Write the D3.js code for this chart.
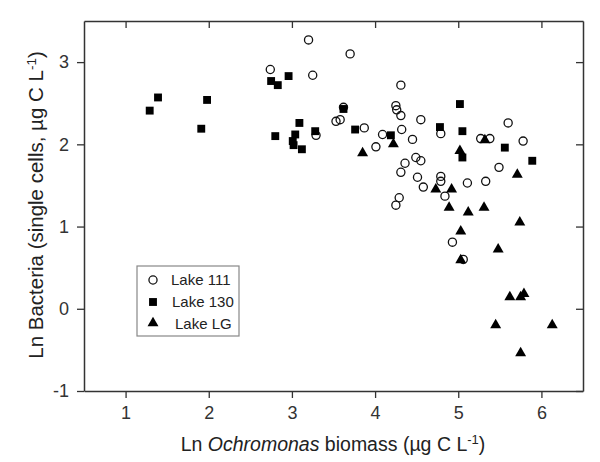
<!DOCTYPE html>
<html lang="en">
<head>
	<meta charset="utf-8">
	<title>Ln Bacteria vs Ln Ochromonas</title>
	<script src="https://d3js.org/d3.v7.min.js"></script>
	<style type="text/css">
		body { margin: 0; background: #fff; }
		svg { font-family: "Liberation Sans", Arial, sans-serif; }
	</style>
</head>
<body>
	<svg id="chart" width="600" height="462"></svg>

	<script type="text/javascript">
	// data: [ln Ochromonas, ln Bacteria]
	var lake111 = [
		[2.74, 2.91], [3.20, 3.27], [3.70, 3.10], [3.25, 2.84], [4.31, 2.72],
		[3.62, 2.45], [3.53, 2.28], [3.58, 2.30], [3.29, 2.11], [3.87, 2.20],
		[4.09, 2.12], [4.01, 1.97], [4.25, 2.47], [4.26, 2.42], [4.31, 2.35],
		[4.32, 2.18], [4.45, 2.06], [4.49, 1.84], [4.36, 1.77], [4.55, 2.30],
		[5.60, 2.26], [5.78, 2.04], [4.79, 2.13], [5.27, 2.07], [5.38, 2.07],
		[4.31, 1.66], [4.55, 1.80], [5.49, 1.72], [4.51, 1.60], [4.58, 1.48],
		[4.79, 1.61], [4.79, 1.55], [5.11, 1.53], [5.33, 1.55], [4.84, 1.37],
		[4.29, 1.35], [4.25, 1.26], [4.93, 0.81], [5.06, 0.60]
	]
	var lake130 = [
		[1.29, 2.41], [1.39, 2.57], [1.98, 2.54], [1.91, 2.19], [2.96, 2.83],
		[2.75, 2.77], [2.83, 2.72], [3.62, 2.43], [3.09, 2.26], [2.80, 2.10],
		[3.28, 2.16], [3.04, 2.12], [3.01, 2.04], [3.02, 1.99], [3.12, 1.94],
		[3.76, 2.18], [4.19, 2.11], [5.02, 2.49], [4.78, 2.21], [5.05, 2.16],
		[5.56, 1.96], [5.89, 1.80], [5.05, 1.84]
	]
	var lakeLG = [
		[3.85, 1.88], [4.22, 1.99], [5.32, 2.04], [5.02, 1.91], [5.71, 1.62],
		[4.73, 1.44], [4.92, 1.44], [4.89, 1.22], [5.12, 1.16], [5.31, 1.22],
		[5.74, 1.04], [5.03, 0.93], [5.48, 0.71], [5.03, 0.58], [5.62, 0.13],
		[5.75, 0.13], [5.79, 0.17], [5.45, -0.21], [6.13, -0.21], [5.75, -0.55]
	]
	var legendLabels = ["Lake 111", "Lake 130", "Lake LG"]
	var xTicks = [1, 2, 3, 4, 5, 6]
	var yTicks = [-1, 0, 1, 2, 3]

	var margin = {top: 21, right: 17, bottom: 71, left: 84}
	var width = 600 - margin.left - margin.right
	var height = 462 - margin.top - margin.bottom
	var axisColor = "#333"

	var svg = d3.select("#chart")
	var g = svg.append("g")
		.attr("transform", "translate(" + margin.left + "," + margin.top + ")")

	var x = d3.scaleLinear().domain([0.5, 6.5]).range([0, width])
	var y = d3.scaleLinear().domain([-1, 3.5]).range([height, 0])

	// axes, outward ticks bottom/left, inward ticks top/right
	function styleAxis(sel) {
		sel.selectAll("path").attr("stroke", axisColor).attr("stroke-width", 1.5)
		sel.selectAll("line").attr("stroke", axisColor).attr("stroke-width", 1.3)
		sel.selectAll("text").attr("fill", "#333").style("font-size", "18px")
	}

	g.append("g")
		.attr("transform", "translate(0," + height + ")")
		.call(d3.axisBottom(x).tickValues(xTicks).tickSize(7).tickSizeOuter(0).tickPadding(8).tickFormat(d => String(d)))
		.call(styleAxis)
	g.append("g")
		.call(d3.axisLeft(y).tickValues(yTicks).tickSize(7).tickSizeOuter(0).tickPadding(8).tickFormat(d => String(d)))
		.call(styleAxis)
	g.append("g")
		.call(d3.axisTop(x).tickValues(xTicks).tickSize(-7).tickSizeOuter(0).tickFormat(""))
		.call(styleAxis)
	g.append("g")
		.attr("transform", "translate(" + width + ",0)")
		.call(d3.axisRight(y).tickValues(yTicks).tickSize(-7).tickSizeOuter(0).tickFormat(""))
		.call(styleAxis)

	// markers
	var sym = {
		circle: d3.symbol().type(d3.symbolCircle).size(52),
		square: d3.symbol().type(d3.symbolSquare).size(62),
		triangle: d3.symbol().type(d3.symbolTriangle).size(52)
	}

	function drawSeries(data, shape, filled) {
		g.append("g").selectAll("path")
			.data(data)
			.enter()
			.append("path")
			.attr("d", sym[shape])
			.attr("transform", d => "translate(" + x(d[0]) + "," + y(d[1]) + ")" + (shape == "triangle" ? " translate(0,-1)" : ""))
			.attr("fill", filled ? "#000" : "#fff")
			.attr("fill-opacity", filled ? 1 : 0)
			.attr("stroke", "#111")
			.attr("stroke-width", filled ? 0 : 1.3)
	}
	drawSeries(lake111, "circle", false)
	drawSeries(lakeLG, "triangle", true)
	drawSeries(lake130, "square", true)

	// legend
	var lg = g.append("g").attr("transform", "translate(" + (137 - margin.left) + "," + (266 - margin.top) + ")")
	lg.append("rect")
		.attr("width", 102).attr("height", 70)
		.attr("fill", "#fff").attr("stroke", "#888").attr("stroke-width", 1.2)
	var shapes = ["circle", "square", "triangle"]
	var textX = [34, 35, 38]
	legendLabels.forEach(function(lab, i) {
		var row = lg.append("g").attr("transform", "translate(0," + (14 + i * 22) + ")")
		row.append("path")
			.attr("d", sym[shapes[i]])
			.attr("transform", "translate(16," + (i == 2 ? -1 : 0) + ")")
			.attr("fill", i == 0 ? "none" : "#000")
			.attr("stroke", "#111")
			.attr("stroke-width", i == 0 ? 1.3 : 0)
		row.append("text")
			.attr("x", textX[i]).attr("y", 5)
			.attr("fill", "#222")
			.style("font-size", "15px")
			.text(lab)
	})

	// axis titles
	var xt = svg.append("text")
		.attr("x", 333)
		.attr("y", 451)
		.attr("text-anchor", "middle")
		.attr("fill", "#222")
		.style("font-size", "19.5px")
	xt.append("tspan").text("Ln ")
	xt.append("tspan").style("font-style", "italic").text("Ochromonas")
	xt.append("tspan").text(" biomass (\u00b5g C L")
	xt.append("tspan").attr("dy", -7).style("font-size", "13px").text("-1")
	xt.append("tspan").attr("dy", 7).text(")")

	var yt = svg.append("text")
		.attr("transform", "translate(43," + 205 + ") rotate(-90)")
		.attr("text-anchor", "middle")
		.attr("fill", "#222")
		.style("font-size", "20.5px")
	yt.append("tspan").text("Ln Bacteria (single cells, \u00b5g C L")
	yt.append("tspan").attr("dy", -7).style("font-size", "13.5px").text("-1")
	yt.append("tspan").attr("dy", 7).text(")")
	</script>
</body>
</html>
